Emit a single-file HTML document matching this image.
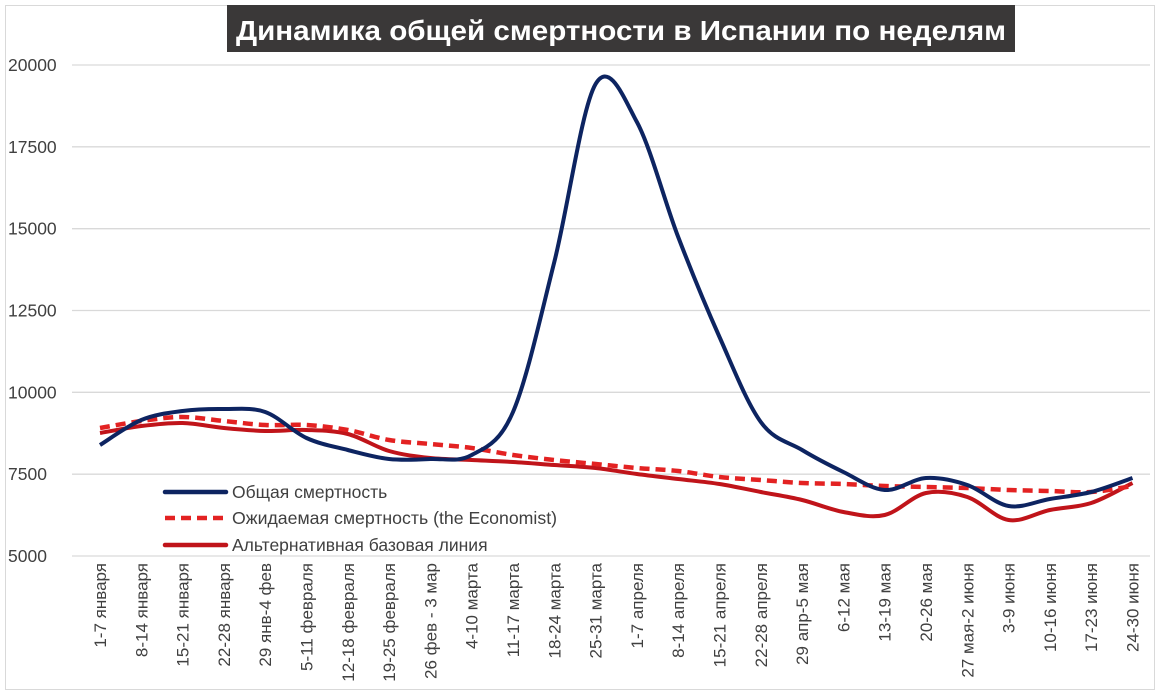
<!DOCTYPE html>
<html><head><meta charset="utf-8"><style>
body{margin:0;background:#fff;}
svg{display:block;font-family:"Liberation Sans",sans-serif;}
</style></head><body>
<svg id="s" width="1160" height="698" xmlns="http://www.w3.org/2000/svg">
<rect x="5.5" y="5.5" width="1149" height="684" fill="#fff" stroke="#d9d9d9"/>
<rect x="227" y="5" width="788" height="47" fill="#3a3838"/>
<text x="621" y="40" text-anchor="middle" font-family="'Liberation Sans',sans-serif" font-weight="bold" font-size="28" fill="#fff" textLength="770" lengthAdjust="spacingAndGlyphs">Динамика общей смертности в Испании по неделям</text>
<g id="grid" stroke="#d9d9d9" stroke-width="1.3"></g>
<g id="ylab" font-size="17.5" fill="#404040"></g>
<g id="xlab" font-size="17" fill="#404040"></g>
<g id="lines" fill="none"></g>
<g font-size="17.5" fill="#404040">
<line x1="165" y1="492" x2="226" y2="492" stroke="#0d2461" stroke-width="4.5" stroke-linecap="round"/>
<text x="232" y="498">Общая смертность</text>
<line x1="165" y1="518" x2="226" y2="518" stroke="#e32222" stroke-width="4.5" stroke-dasharray="10,6"/>
<text x="232" y="524" textLength="325" lengthAdjust="spacingAndGlyphs">Ожидаемая смертность (the Economist)</text>
<line x1="165" y1="545" x2="226" y2="545" stroke="#c0141a" stroke-width="4.5" stroke-linecap="round"/>
<text x="232" y="551">Альтернативная базовая линия</text>
</g>
</svg>
<script>
const NS="http://www.w3.org/2000/svg";
function el(p,t,a,txt){const e=document.createElementNS(NS,t);for(const k in a)e.setAttribute(k,a[k]);if(txt)e.textContent=txt;document.getElementById(p).appendChild(e);}
const Y=v=>556-(v-5000)*491/15000;
[20000,17500,15000,12500,10000,7500,5000].forEach(v=>{
 el("grid","line",{x1:72,x2:1150,y1:Y(v),y2:Y(v)});
 el("ylab","text",{x:8,y:Y(v)+6},String(v));
});
const labs=["1-7 января","8-14 января","15-21 января","22-28 января","29 янв-4 фев","5-11 февраля","12-18 февраля","19-25 февраля","26 фев - 3 мар","4-10 марта","11-17 марта","18-24 марта","25-31 марта","1-7 апреля","8-14 апреля","15-21 апреля","22-28 апреля","29 апр-5 мая","6-12 мая","13-19 мая","20-26 мая","27 мая-2 июня","3-9 июня","10-16 июня","17-23 июня","24-30 июня"];
const X=i=>100+i*41.3;
labs.forEach((l,i)=>el("xlab","text",{transform:`translate(${X(i)+6},563) rotate(-90)`,"text-anchor":"end"},l));
function path(ys){let p=ys.map((y,i)=>[X(i),y]);let d=`M${p[0][0]},${p[0][1]}`;
 for(let i=0;i<p.length-1;i++){const p0=p[Math.max(0,i-1)],p1=p[i],p2=p[i+1],p3=p[Math.min(p.length-1,i+2)];
 d+=` C${p1[0]+(p2[0]-p0[0])/6},${p1[1]+(p2[1]-p0[1])/6} ${p2[0]-(p3[0]-p1[0])/6},${p2[1]-(p3[1]-p1[1])/6} ${p2[0]},${p2[1]}`;}return d;}
const blue=[445,420,411,409,412,438,450,459,459,455,412,262,84,122,237,337,422,450,472,490,478,485,506,499,492,478];
const dash=[428,421,417,421,425,425,430,440,444,448,455,460,464,468,471,477,480,483,484,486,487,488,490,491,492,486];
const red=[433,426,423,428,431,430,434,451,458,460,462,465,468,474,479,484,492,500,512,515,493,497,520,510,503,483];
el("lines","path",{d:path(red),stroke:"#c0141a","stroke-width":4});
el("lines","path",{d:path(dash),stroke:"#e32222","stroke-width":4.5,"stroke-dasharray":"10,6"});
el("lines","path",{d:path(blue),stroke:"#0d2461","stroke-width":4});
</script>
</body></html>
